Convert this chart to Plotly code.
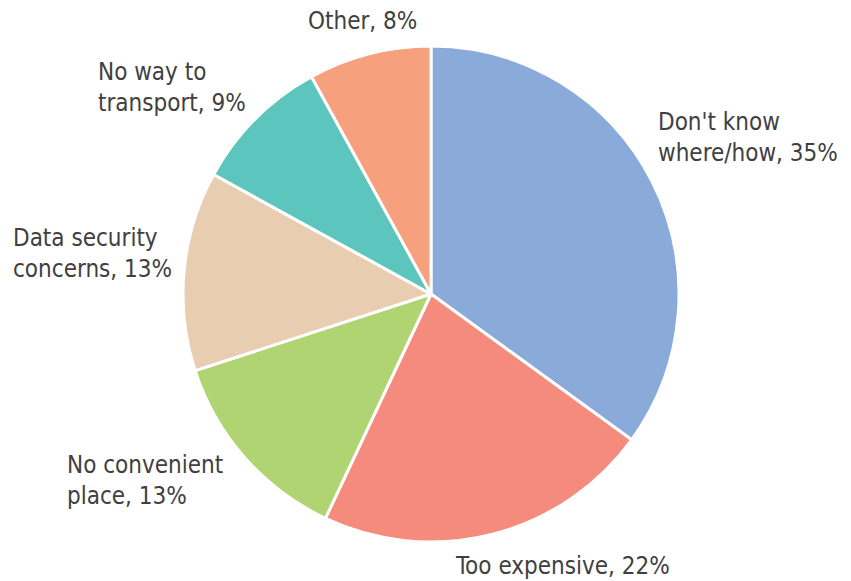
import plotly.graph_objects as go

labels = ["Don't know<br>where/how", "Too expensive", "No convenient<br>place",
          "Data security<br>concerns", "No way to<br>transport", "Other"]
values = [35, 22, 13, 13, 9, 8]
colors = ["#8AAADA", "#F48B7D", "#B0D472", "#E8CDB0", "#5CC5BD", "#F6A07E"]

W, H = 851, 581
OFF = 8  # page body margin
cx, cy, r = 431 - OFF, 294 - OFF, 248
# label anchor (left edge, vertical centre) in page pixels
label_pos = [(656, 137), (453, 566), (65, 480), (11, 253), (96, 87), (306, 21)]

fig = go.Figure(go.Pie(
    labels=labels, values=values, sort=False, direction="clockwise", rotation=0,
    marker=dict(colors=colors, line=dict(color="white", width=3)),
    textinfo="none", showlegend=False, hoverinfo="label+percent",
    domain=dict(x=[(cx - r) / W, (cx + r) / W], y=[(H - cy - r) / H, (H - cy + r) / H]),
))
total = sum(values)
for lab, v, (px, py) in zip(labels, values, label_pos):
    fig.add_annotation(
        text=f"{lab}, {round(100 * v / total)}%", x=(px - OFF) / W, y=1 - (py - OFF) / H,
        xref="paper", yref="paper", xanchor="left", yanchor="middle", align="left",
        showarrow=False,
        font=dict(family="DejaVu Sans Condensed, DejaVu Sans", size=24, color="#404040"),
    )
fig.update_layout(width=W, height=H, margin=dict(l=0, r=0, t=0, b=0),
                  paper_bgcolor="white", plot_bgcolor="white")
fig.write_html("out.html")
